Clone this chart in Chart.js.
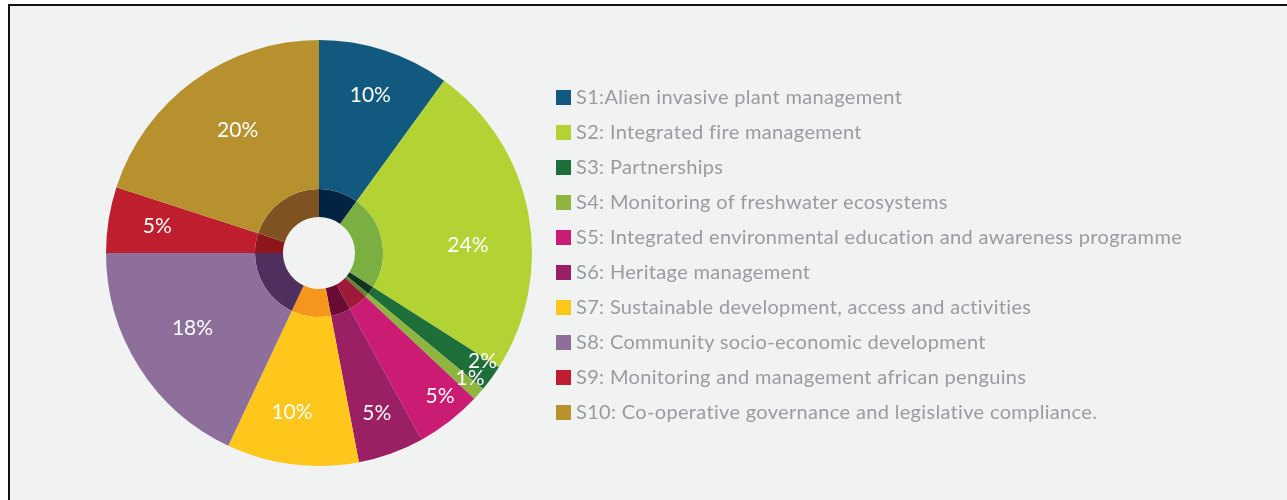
<!DOCTYPE html>
<html>
<head>
<meta charset="utf-8">
<script src="https://cdn.jsdelivr.net/npm/chart.js@4/dist/chart.umd.min.js"></script>
<style>
    html, body { margin: 0; padding: 0; background: #ffffff; }
    #frame {
        position: absolute; left: 8px; top: 4px; width: 1279px; height: 496px;
        background: #f1f2f2; border-top: 2px solid #111; border-left: 2px solid #111;
        box-sizing: border-box;
    }
    #wrap { position: absolute; left: 0; top: 0; width: 1287px; height: 500px; }
    #legend {
        position: absolute; left: 556px; top: 83px; margin: 0; padding: 0; list-style: none;
        font-family: Lato, sans-serif; font-size: 20px; letter-spacing: 0.33px; color: #9a9b9d;
    }
    #legend li { height: 35px; line-height: 26px; white-space: nowrap; }
    #legend span.box {
        display: inline-block; width: 15px; height: 15px; margin-right: 5px; vertical-align: -1px;
    }
</style>
</head>
<body>
<div id="frame"></div>
<div id="wrap"><canvas id="myChart" width="1287" height="500"></canvas></div>
<ul id="legend"></ul>
<script>
'use strict'

let labels = [
    'S1:Alien invasive plant management',
    'S2: Integrated fire management',
    'S3: Partnerships',
    'S4: Monitoring of freshwater ecosystems',
    'S5: Integrated environmental education and awareness programme',
    'S6: Heritage management',
    'S7: Sustainable development, access and activities',
    'S8: Community socio-economic development',
    'S9: Monitoring and management african penguins',
    'S10: Co-operative governance and legislative compliance.'
];

let shares = [10, 24, 2, 1, 5, 5, 10, 18, 5, 20];

let colors = ['#11597e', '#b3d335', '#1e6e39', '#8db53f', '#cb1c73',
    '#9b1f63', '#ffc61b', '#8e6f9b', '#be1e2d', '#b8912f'];

let innerColors = ['#032343', '#7caf42', '#10341f', '#5b8a33', '#9e1a38',
    '#6a0b33', '#f7961d', '#4f2f5e', '#8e1519', '#7f5321'];

// where each percentage sits: fraction of radius and small angle nudge (deg)
let labelRadius = [0.78, 0.70, 0.92, 0.92, 0.88, 0.80, 0.76, 0.69, 0.77, 0.69];
let labelNudge = [0, 8, -2.6, -1.8, -2.4, 0, 2.4, 1.8, 0.5, 2.4];


const legendList = document.getElementById('legend');
for (let i = 0; i < labels.length; i++) {
    let li = document.createElement('li');
    let box = document.createElement('span');
    box.className = 'box';
    box.style.background = colors[i];
    li.appendChild(box);
    li.appendChild(document.createTextNode(labels[i]));
    legendList.appendChild(li);
}


const percentLabels = {
    id: 'percentLabels',
    afterDatasetsDraw(chart) {
        let ctx = chart.ctx;
        let arcs = chart.getDatasetMeta(0).data;
        ctx.save();
        ctx.fillStyle = '#ffffff';
        ctx.font = '21px Lato, sans-serif';
        ctx.textAlign = 'center';
        ctx.textBaseline = 'middle';
        for (let i = 0; i < arcs.length; i++) {
            let a = arcs[i];
            let mid = (a.startAngle + a.endAngle) / 2 + labelNudge[i] * Math.PI / 180;
            let r = a.outerRadius * labelRadius[i];
            ctx.fillText(shares[i] + '%', a.x + Math.cos(mid) * r, a.y + Math.sin(mid) * r);
        }
        ctx.restore();
    }
};


let ctx = document.getElementById('myChart').getContext('2d');
let myChart = new Chart(ctx, {
    type: 'doughnut',
    data: {
        labels: labels,
        datasets: [{
            data: shares,
            backgroundColor: colors,
            borderWidth: 0,
            weight: 149
        }, {
            data: shares,
            backgroundColor: innerColors,
            borderWidth: 0,
            weight: 28
        }]
    },
    options: {
        responsive: false,
        animation: false,
        cutout: 36,
        layout: {
            padding: { left: 106, right: 755, top: 40, bottom: 34 }
        },
        plugins: {
            legend: { display: false },
            tooltip: { enabled: false }
        }
    },
    plugins: [percentLabels]
});
</script>
</body>
</html>
